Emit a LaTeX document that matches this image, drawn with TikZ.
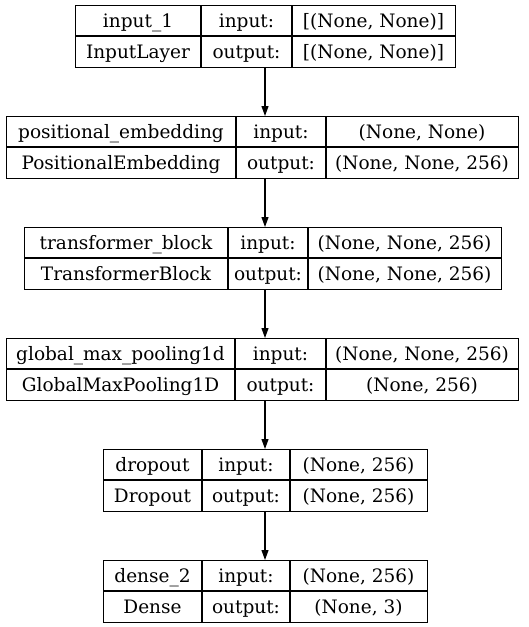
\documentclass[tikz,border=0pt]{standalone}
\usepackage{fontspec}
\setmainfont{DejaVu Serif}
\usetikzlibrary{arrows.meta}

\begin{document}
\begin{tikzpicture}[x=1pt, y=-1pt, >={Triangle[length=10pt,width=7pt]},
		layerbox/.style={draw, line width=1.1pt, inner sep=0pt, anchor=north west},
		cell/.style={inner sep=0pt, anchor=base, font=\fontsize{18.5}{22}\selectfont},
		flow/.style={->, line width=1.1pt}]
		\useasboundingbox (0,0) rectangle (529,627);
		% one box per layer: name, left, divider, divider, right, top, layer, class, input, output
		\foreach \n/\l/\a/\b/\r/\t/\nm/\cl/\in/\out in {
			input/75/201/292/455/5/input\_1/InputLayer/{[(None, None)]}/{[(None, None)]},
			posemb/6/236/326/518/116/positional\_embedding/PositionalEmbedding/{(None, None)}/{(None, None, 256)},
			trans/24/228/308/501/227/transformer\_block/TransformerBlock/{(None, None, 256)}/{(None, None, 256)},
			gmp/6/235/326/518/338/global\_max\_pooling1d/GlobalMaxPooling1D/{(None, None, 256)}/{(None, 256)},
			drop/103/202/290/427/449/dropout/Dropout/{(None, 256)}/{(None, 256)},
			dense/103/202/290/427/560/dense\_2/Dense/{(None, 256)}/{(None, 3)}} {
			\node[layerbox, minimum width=\r-\l, minimum height=62] (\n) at (\l,\t) {};
			\draw[line width=1.1pt] (\l,\t+31) -- (\r,\t+31);
			\draw[line width=1.1pt] (\a,\t) -- (\a,\t+62);
			\draw[line width=1.1pt] (\b,\t) -- (\b,\t+62);
			\node[cell] (\n-name) at ({(\l+\a)/2},\t+22) {\nm};
			\node[cell] (\n-class) at ({(\l+\a)/2},\t+53) {\cl};
			\node[cell] (\n-inlbl) at ({(\a+\b)/2},\t+22) {input:};
			\node[cell] (\n-outlbl) at ({(\a+\b)/2},\t+53) {output:};
			\node[cell] (\n-in) at ({(\b+\r)/2},\t+22) {\in};
			\node[cell] (\n-out) at ({(\b+\r)/2},\t+53) {\out};
		}
		% connections
		\draw[flow] (input.south -| 265,0) -- (posemb.north -| 265,0);
		\draw[flow] (posemb.south -| 265,0) -- (trans.north -| 265,0);
		\draw[flow] (trans.south -| 265,0) -- (gmp.north -| 265,0);
		\draw[flow] (gmp.south -| 265,0) -- (drop.north -| 265,0);
		\draw[flow] (drop.south -| 265,0) -- (dense.north -| 265,0);
	\end{tikzpicture}
\end{document}
